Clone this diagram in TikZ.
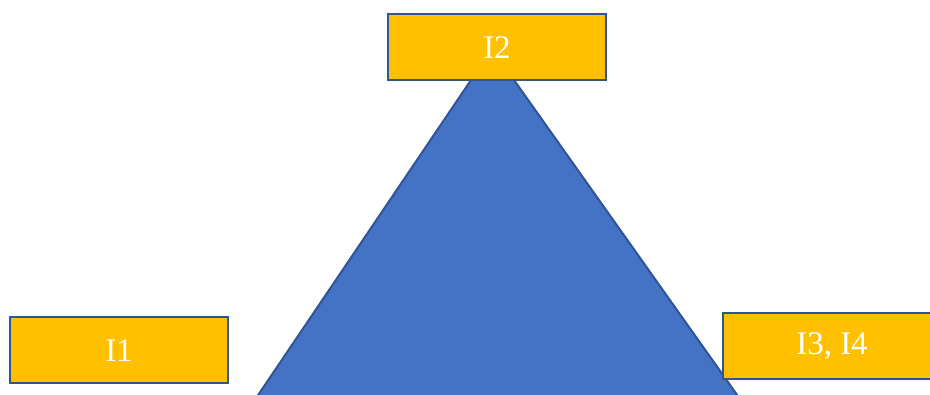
\documentclass[tikz,border=0pt]{standalone}
\usepackage{fontspec}
\setmainfont{Liberation Serif}
\definecolor{triblue}{HTML}{4472C4}
\definecolor{edgeblue}{HTML}{2F5597}
\definecolor{boxorange}{HTML}{FFC000}
\begin{document}
\begin{tikzpicture}[x=1pt,y=-1pt,
  labelbox/.style={draw=edgeblue,line width=2pt,fill=boxorange,text=white,
    minimum width=218pt,minimum height=66pt,inner sep=0pt,
    font=\fontsize{33}{36}\selectfont}]
\useasboundingbox (0,0) rectangle (930,395);
\clip (0,0) rectangle (930,395);
\coordinate (apex) at (492,49);
\coordinate (bl) at (223,447);
\coordinate (br) at (774,447);
\draw[edgeblue,line width=2pt,fill=triblue,line join=miter] (apex) -- (br) -- (bl) -- cycle;
\node[labelbox] (i2) at (497,47.5) {I2};
\node[labelbox] (i1) at (119,350.5) {I1};
\node[labelbox] (i34) at (832,346) {I3, I4};
\end{tikzpicture}
\end{document}
